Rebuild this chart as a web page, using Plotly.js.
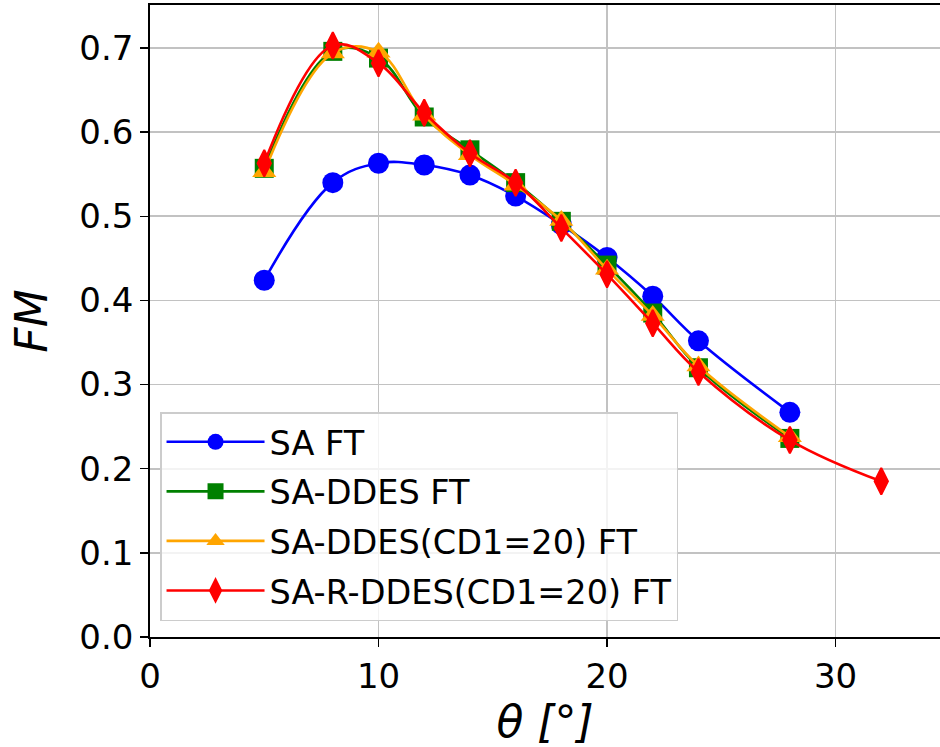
<!DOCTYPE html>
<html>
<head>
<meta charset="utf-8">
<script src="https://cdn.plot.ly/plotly-3.0.1.min.js"></script>
<style>
  html, body { margin: 0; padding: 0; background: #ffffff; }
  #chart { width: 940px; height: 747px; }
</style>
</head>
<body>
<div id="chart"></div>
<script>
// Figure of merit (FM) versus collective pitch angle theta, per turbulence model
const thetaSA = [5, 8, 10, 12, 14, 16, 18, 20, 22, 24, 28];
const fmSA = [0.424, 0.540, 0.563, 0.561, 0.549, 0.524, 0.490, 0.451, 0.405, 0.352, 0.267];

const thetaDDES = [5, 8, 10, 12, 14, 16, 18, 20, 22, 24, 28];
const fmDDES = [0.557, 0.696, 0.688, 0.618, 0.579, 0.540, 0.494, 0.442, 0.385, 0.320, 0.236];

const thetaDDESCd1 = [5, 8, 10, 12, 14, 16, 18, 20, 22, 24, 28];
const fmDDESCd1 = [0.553, 0.694, 0.695, 0.620, 0.573, 0.537, 0.495, 0.437, 0.382, 0.322, 0.238];

const thetaRDDES = [5, 8, 10, 12, 14, 16, 18, 20, 22, 24, 28, 32];
const fmRDDES = [0.563, 0.703, 0.682, 0.623, 0.575, 0.540, 0.486, 0.431, 0.373, 0.315, 0.234, 0.185];

const seriesNames = ['SA FT', 'SA-DDES FT', 'SA-DDES(CD1=20) FT', 'SA-R-DDES(CD1=20) FT'];

const FONT = 'DejaVu Sans, sans-serif';

function curve(x, y, name, color, symbol, size, outline) {
  return {
    x: x, y: y, name: name, legendgroup: name,
    type: 'scatter', mode: 'lines+markers',
    line: { color: color, width: 2.6, shape: 'spline', smoothing: 1.1 },
    marker: { color: color, symbol: symbol, size: size, line: { width: outline, color: color } }
  };
}

const traces = [
  curve(thetaSA, fmSA, seriesNames[0], '#0000ff', 'circle', 21, 0),
  curve(thetaDDES, fmDDES, seriesNames[1], '#008000', 'square', 19, 0),
  curve(thetaDDESCd1, fmDDESCd1, seriesNames[2], '#ffa500', 'triangle-up', 21, 0),
  curve(thetaRDDES, fmRDDES, seriesNames[3], '#ff0000', 'diamond-tall', 19, 2)
];

const layout = {
  width: 940, height: 747,
  margin: { l: 150, r: 0, t: 5, b: 110 },
  paper_bgcolor: '#ffffff', plot_bgcolor: '#ffffff',
  font: { family: FONT, size: 34, color: '#000000' },
  showlegend: true,
  legend: {
    x: 0.0127, y: 0.356, xanchor: 'left', yanchor: 'top',
    bgcolor: 'rgba(255,255,255,0.8)', bordercolor: '#cccccc', borderwidth: 1.5,
    font: { family: FONT, size: 33.5, color: '#000000' },
    traceorder: 'grouped', tracegroupgap: 3,
    itemwidth: 98,
    entrywidth: 436, entrywidthmode: 'pixels'
  },
  xaxis: {
    range: [0, 34.57],
    dtick: 10, tick0: 0,
    showgrid: true, gridcolor: '#c2c2c2', gridwidth: 1.6,
    zeroline: false,
    showline: true, linecolor: '#000000', linewidth: 1.8, mirror: true,
    ticks: 'outside', ticklen: 8, tickwidth: 1.5, tickcolor: '#000000',
    tickfont: { family: FONT, size: 34, color: '#000000' },
    title: { text: 'θ [°]', font: { family: FONT, size: 44, style: 'italic', color: '#000000' }, standoff: 8 }
  },
  yaxis: {
    range: [0, 0.7511],
    dtick: 0.1, tick0: 0, tickformat: '.1f',
    showgrid: true, gridcolor: '#c2c2c2', gridwidth: 1.6,
    zeroline: false,
    showline: true, linecolor: '#000000', linewidth: 1.8, mirror: false,
    ticks: 'outside', ticklen: 8, tickwidth: 1.5, tickcolor: '#000000',
    tickfont: { family: FONT, size: 34, color: '#000000' },
    title: { text: 'FM', font: { family: FONT, size: 44, style: 'italic', color: '#000000' }, standoff: 18 }
  }
};

Plotly.newPlot('chart', traces, layout, { staticPlot: true, displayModeBar: false });
</script>
</body>
</html>
